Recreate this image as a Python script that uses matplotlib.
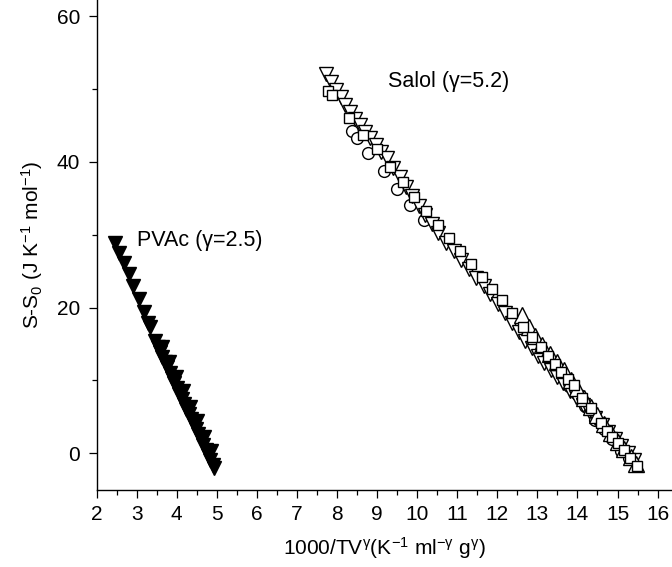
import matplotlib
matplotlib.use("Agg")
import matplotlib.pyplot as plt
from matplotlib.ticker import MultipleLocator

plt.rcParams['font.family'] = ['Liberation Sans', 'DejaVu Sans']
plt.rcParams['mathtext.fontset'] = 'custom'
plt.rcParams['mathtext.rm'] = 'Liberation Sans'
plt.rcParams['mathtext.it'] = 'Liberation Sans'
plt.rcParams['mathtext.default'] = 'regular'

# PVAc (gamma = 2.5), filled down triangles
pvac_x = [2.45, 2.57, 2.68, 2.81, 2.91, 3.05, 3.17, 3.29, 3.33,
          3.45, 3.52, 3.58, 3.64, 3.70, 3.76, 3.82, 3.88, 3.94, 4.00,
          4.06, 4.12, 4.18, 4.24, 4.30, 4.36, 4.42, 4.48, 4.54, 4.60,
          4.66, 4.72, 4.78, 4.84, 4.90, 4.93,
          3.62, 3.80, 3.98, 4.15, 4.33, 4.50, 4.68, 4.85]
pvac_y = [28.9, 27.5, 26.1, 24.6, 22.9, 21.2, 19.4, 17.9, 17.4,
          15.4, 14.6, 13.9, 13.2, 12.5, 11.8, 11.0, 10.3, 9.6, 8.9,
          8.2, 7.5, 6.8, 6.1, 5.4, 4.7, 4.0, 3.3, 2.6, 1.9,
          1.2, 0.5, -0.2, -0.9, -1.6, -2.0,
          14.6, 12.6, 10.5, 8.5, 6.4, 4.4, 2.3, 0.3]

# Salol (gamma = 5.2), four open-symbol data sets
salol_circ_x = [8.37, 8.49, 8.78, 9.16, 9.49, 9.83, 10.16,
                13.60, 13.80, 13.99, 14.20, 14.45, 14.66, 14.87, 15.08, 15.28]
salol_circ_y = [44.2, 43.3, 41.2, 38.7, 36.2, 34.1, 32.0,
                10.6, 9.3, 8.1, 6.5, 4.6, 3.3, 1.9, 0.3, -0.6]

salol_dn_x = [7.73, 7.85, 7.97, 8.09, 8.21, 8.33, 8.45, 8.57, 8.70, 8.83,
              8.96, 9.10, 9.24, 9.40, 9.56, 9.72, 9.88, 10.04, 10.20, 10.37,
              10.53, 10.72, 10.91, 11.10, 11.29, 11.48, 11.66, 11.83, 12.01,
              12.19, 12.36, 12.53, 12.70, 12.86, 13.01, 13.17, 13.33, 13.49,
              13.65, 13.81, 13.97, 14.13, 14.29, 14.45, 14.61, 14.77, 14.93,
              15.09, 15.25, 15.42]
salol_dn_y = [52.0, 51.0, 49.9, 48.9, 47.8, 46.8, 45.9, 45.0, 44.1, 43.2,
              42.3, 41.4, 40.5, 39.2, 37.9, 36.6, 35.3, 34.0, 32.7, 31.4,
              30.2, 28.9, 27.7, 26.5, 25.3, 24.1, 23.0, 21.9, 20.5,
              19.2, 17.9, 16.6, 15.4, 14.4, 13.4, 12.4, 11.4, 10.5,
              9.6, 8.6, 7.7, 6.7, 5.8, 4.8, 3.9, 2.9, 2.0,
              1.0, 0.1, -0.9]

salol_up_x = [12.62, 12.78, 12.95, 13.12, 13.31, 13.49, 13.66, 13.83, 14.00,
              14.17, 14.34, 14.50, 14.67, 14.83, 15.00, 15.17, 15.33, 15.47]
salol_up_y = [19.0, 17.3, 16.1, 14.9, 13.6, 12.5, 11.5, 10.0, 8.9,
              7.6, 6.4, 5.2, 4.0, 2.8, 1.6, 0.6, -0.5, -1.5]

salol_sq_x = [7.78, 7.87, 8.31, 8.64, 8.99, 9.31, 9.64, 9.93, 10.22, 10.51,
              10.80, 11.08, 11.35, 11.62, 11.87, 12.12, 12.37, 12.64, 12.87,
              13.08, 13.26, 13.43, 13.60, 13.76, 13.91, 14.12, 14.34, 14.58,
              14.74, 14.87, 15.00, 15.16, 15.32, 15.49]
salol_sq_y = [49.7, 49.1, 46.0, 43.7, 41.7, 39.3, 37.2, 35.2, 33.2, 31.3,
              29.5, 27.7, 26.0, 24.2, 22.6, 21.1, 19.2, 17.4, 15.9,
              14.6, 13.4, 12.3, 11.1, 10.2, 9.4, 7.6, 6.2, 4.2,
              3.0, 2.2, 1.4, 0.5, -0.6, -1.8]

fig = plt.figure(figsize=(6.72, 5.67), dpi=100)
ax = fig.add_axes([0.1438, 0.1358, 0.8562, 0.8642])

mew = 1.0
ax.plot(pvac_x, pvac_y, linestyle='none', marker='v', ms=9.5,
        mfc='black', mec='black', mew=mew, zorder=3)
ax.plot(salol_circ_x, salol_circ_y, linestyle='none', marker='o', ms=8.5,
        mfc='white', mec='black', mew=mew, zorder=3)
ax.plot(salol_dn_x, salol_dn_y, linestyle='none', marker='v', ms=9.5,
        mfc='white', mec='black', mew=mew, zorder=4)
ax.plot(salol_up_x, salol_up_y, linestyle='none', marker='^', ms=11,
        mfc='white', mec='black', mew=mew, zorder=5)
ax.plot(salol_sq_x, salol_sq_y, linestyle='none', marker='s', ms=7.5,
        mfc='white', mec='black', mew=mew, zorder=6)

ax.text(3.0, 29.2, 'PVAc (γ=2.5)', fontsize=15.5, ha='left', va='center')
ax.text(9.28, 51.0, 'Salol (γ=5.2)', fontsize=15.5, ha='left', va='center')

ax.set_xlim(2, 16.36)
ax.set_ylim(-5.03, 62.2)
ax.xaxis.set_major_locator(MultipleLocator(1))
ax.xaxis.set_minor_locator(MultipleLocator(0.5))
ax.yaxis.set_major_locator(MultipleLocator(20))
ax.yaxis.set_minor_locator(MultipleLocator(10))

for side in ('top', 'right'):
    ax.spines[side].set_visible(False)
for side in ('left', 'bottom'):
    ax.spines[side].set_linewidth(1.0)

ax.tick_params(which='major', direction='out', length=6, width=0.9,
               labelsize=15)
ax.tick_params(which='minor', direction='out', length=3.5, width=0.9)
ax.tick_params(axis='y', which='major', pad=6)
ax.tick_params(axis='x', which='major', pad=5)

ax.set_xlabel('1000/TV$^{γ}$(K$^{-1}$ ml$^{-γ}$ g$^{γ}$)', fontsize=15,
              labelpad=8)
ax.set_ylabel('S-S$_{0}$ (J K$^{-1}$ mol$^{-1}$)', fontsize=15, labelpad=8)

fig.savefig('out.png', dpi=100)
